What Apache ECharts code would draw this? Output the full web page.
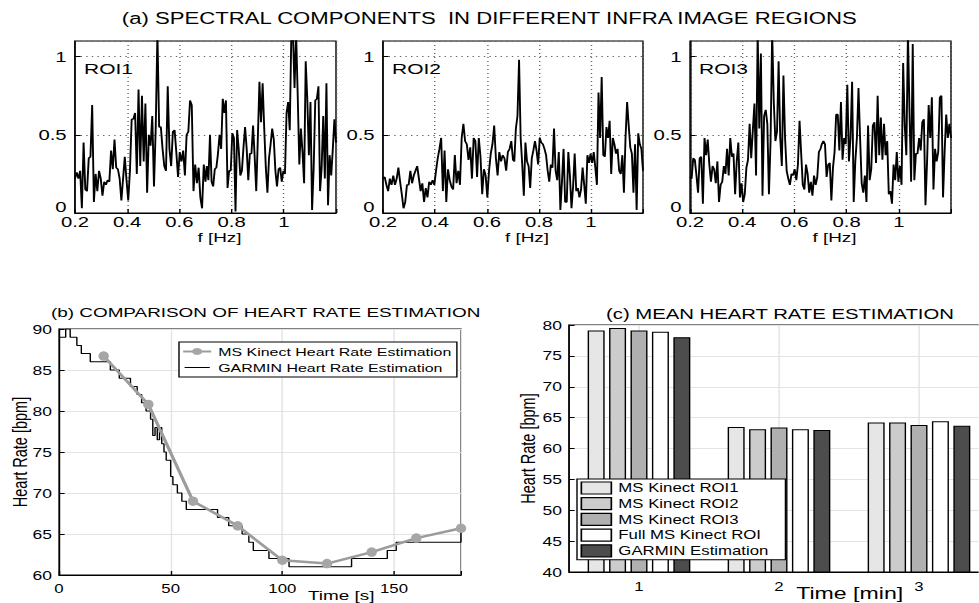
<!DOCTYPE html>
<html><head><meta charset="utf-8">
<script src="https://cdn.jsdelivr.net/npm/echarts/dist/echarts.min.js"></script>
<style>
html,body{margin:0;padding:0;background:#fff;overflow:hidden}
#wrap{width:979px;height:603px;overflow:hidden;position:relative}
#c{position:absolute;left:0;top:0;height:603px;transform-origin:0 0}
</style>
</head><body><div id="wrap"><div id="c"></div></div><script>
// ---------- (a) spectral components: amplitude values, low half (0.2-0.70 Hz) and high half (0.705-1.2 Hz)
const freqLoRange = [0.2, 0.70];
const freqHiRange = [0.705, 1.2];
const spec1Lo = [0.22,0.26,0.22,0.27,0.03,0.45,0.15,0.14,0.35,0.36,0.69,0.07,0.25,0.14,0.27,0.22,0.11,0.2,0.18,0.21,0.2,0.4,0.28,0.47,0.29,0.28,0.22,0.08,0.22,0.36,0.21,0.08,0.27,0.6,0.6,0.64,0.25,0.79,0.3,0.75,0.33,0.7,0.13,0.5,0.43,0.62,0.17,0.54,1.15,0.55,0.55,0.41,0.3,0.27,0.81,0.41,0.3,0.52,0.53,0.39,0.23,0.39,0.33,0.4,0.24,0.5,0.52,0.72,0.69,0.14,0.31,0.19,0.29,0.1,0.03,0.31,0.2];
const spec1Hi = [0.3,0.21,0.5,0.2,0.17,0.28,0.29,0.38,0.5,0.41,0.73,0.64,0.72,0.16,0.27,0.27,0.51,0.48,0.01,0.53,0.41,0.24,0.27,0.42,0.55,0.41,0.21,0.38,0.38,0.56,0.36,0.14,0.48,0.84,0.58,0.83,0.54,0.29,0.13,0.35,0.44,0.54,0.47,0.27,0.17,0.28,0.29,0.2,0.27,0.25,0.64,0.71,0.53,1.15,1.15,0.8,1.15,0.75,0.31,0.54,0.39,0.19,0.97,0.73,0.37,0.71,0.02,0.29,0.72,0.73,0.81,0.14,0.29,0.62,0.22,0.83,0.05,0.37,0.24,0.41,0.6,0.45];
const spec2Lo = [0.22,0.23,0.18,0.14,0.22,0.18,0.24,0.18,0.22,0.29,0.2,0.12,0.03,0.07,0.18,0.18,0.27,0.19,0.24,0.27,0.3,0.22,0.14,0.19,0.07,0.16,0.1,0.2,0.18,0.21,0.18,0.27,0.35,0.41,0.48,0.14,0.4,0.07,0.28,0.21,0.17,0.15,0.37,0.19,0.27,0.18,0.48,0.57,0.46,0.44,0.34,0.42,0.22,0.48,0.46,0.23,0.48,0.36,0.12,0.28,0.24,0.1,0.27,0.38,0.44,0.56,0.35,0.24,0.39,0.33,0.37,0.35,0.27,0.39,0.41,0.46,0.34];
const spec2Hi = [0.33,0.54,0.62,0.98,0.48,0.31,0.11,0.45,0.33,0.3,0.16,0.35,0.4,0.46,0.4,0.31,0.48,0.45,0.44,0.41,0.37,0.27,0.2,0.31,0.29,0.54,0.27,0.21,0.39,0.02,0.2,0.41,0.07,0.07,0.39,0.24,0.03,0.17,0.38,0.14,0.16,0.1,0.15,0.29,0.18,0.06,0.37,0.32,0.38,0.32,0.39,0.29,0.18,0.77,0.48,0.87,0.37,0.36,0.55,0.48,0.59,0.25,0.48,0.44,0.38,0.41,0.27,0.25,0.37,0.13,0.48,0.71,0.56,0.42,0.38,0.13,0.44,0.02,0.51,0.44,0.41,0.27];
const spec3Lo = [0.23,0.22,0.35,0.34,0.24,0.13,0.35,0.36,0.06,0.48,0.37,0.47,0.31,0.2,0.3,0.28,0.19,0.33,0.07,0.18,0.2,0.3,0.25,0.41,0.24,0.48,0.36,0.38,0.12,0.33,0.45,0.1,0.19,0.07,0.12,0.29,0.34,0.57,0.35,0.53,0.7,0.24,1.15,0.54,1.02,0.11,0.62,0.66,0.57,0.12,0.46,1.15,0.71,0.46,0.52,0.97,0.48,0.3,0.88,0.48,0.27,0.22,0.18,0.25,0.24,0.28,0.21,0.31,0.59,0.38,0.18,0.15,0.31,0.25,0.13,0.2,0.11,0.24,0.18,0.23,0.39,0.41];
const spec3Hi = [0.44,0.46,0.44,0.23,0.31,0.32,0.08,0.29,0.39,0.63,0.63,0.4,0.71,0.34,0.48,0.44,0.82,0.33,0.48,0.84,0.07,0.33,0.48,0.8,0.48,0.19,0.13,0.24,0.07,0.56,0.21,0.28,0.56,0.58,0.32,0.75,0.37,0.61,0.34,0.57,0.37,0.46,0.12,0.14,0.06,0.31,0.21,0.39,0.2,0.3,0.18,0.96,0.56,0.37,1.15,0.64,0.2,1.08,0.21,0.38,0.38,0.48,0.4,0.58,0.6,0.05,0.33,0.69,0.48,0.74,0.15,0.41,0.33,0.39,0.74,0.75,0.1,0.39,0.63,0.48,0.57,0.48];
const roiLabels = ['ROI1','ROI2','ROI3'];
const specXTicks = ['0.2','0.4','0.6','0.8','1'];
const specYTicks = ['0','0.5','1'];

// ---------- (b) heart rate comparison
const kinectTime = [20,40,60,80,100,120,140,160,180];
const kinectHR = [86.7,80.8,69.0,66.0,61.8,61.4,62.8,64.5,65.7];
const garminTime = [0,3,5,8,10,14,23,27,32,35,37,39,41,42,43,44,45,46,47,48,50,51,53,55,57,71,76,82,85,87,94,103,131,147,151,180];
const garminHR = [89,90,89,88,87,86,85,84,83,82,81,80,79,77,78,76.5,78,76,75,74,72,71,70,69,68,67,66,65,64,63,62,61,62,63,64,65.5];

// ---------- (c) mean heart rate
const minuteCats = ['1','2','3'];
const barNames = ['MS Kinect ROI1','MS Kinect ROI2','MS Kinect ROI3','Full MS Kinect ROI','GARMIN Estimation'];
const roi1Mean = [79.1,63.5,64.2];
const roi2Mean = [79.5,63.1,64.2];
const roi3Mean = [79.1,63.4,63.8];
const fullMean = [78.9,63.1,64.4];
const garminMean = [78.0,63.0,63.7];
const barColors = ['#e6e6e6','#cccccc','#b0b0b0','#ffffff','#4d4d4d'];

// The reference figure is horizontally stretched; draw narrower and stretch the page element.
const S = 1.4;
const W = 979 / S;
const px = v => v / S;   // reference x pixels -> chart units
const FONT = 'Liberation Sans';
const el = document.getElementById('c');
el.style.width = W + 'px';
el.style.transform = 'scaleX(' + S + ')';

function spread(vals, r){ return vals.map((v,i)=>[r[0]+(r[1]-r[0])*i/(vals.length-1), v]); }
const specData = [
  spread(spec1Lo,freqLoRange).concat(spread(spec1Hi,freqHiRange)),
  spread(spec2Lo,freqLoRange).concat(spread(spec2Hi,freqHiRange)),
  spread(spec3Lo,freqLoRange).concat(spread(spec3Hi,freqHiRange))
];
const zip = (a,b)=>a.map((v,i)=>[v,b[i]]);

const gridBase = {show:true, borderColor:'#000', borderWidth:1, backgroundColor:'transparent', containLabel:false, outerBoundsMode:'none'};
const grids = [
  {left:px(75), top:41, width:px(261), height:172},
  {left:px(383), top:41, width:px(260), height:172},
  {left:px(690), top:41, width:px(261), height:172},
  {left:px(59), top:329, width:px(402), height:246},
  {left:px(569), top:325, width:px(420), height:247}
].map(g=>Object.assign({}, gridBase, g));

const axLine = {show:true, onZero:false, lineStyle:{color:'#000', width:1}};
const tick = {show:true, inside:true, length:4, lineStyle:{color:'#000'}};
const xAxes = [0,1,2].map(i=>({
  type:'value', gridIndex:i, min:0.2, max:1.2, interval:0.2,
  axisLine:axLine, axisTick:tick,
  axisLabel:{color:'#000', fontSize:14.5, fontFamily:FONT, margin:2,
    formatter:v=>{const k=Math.round((v-0.2)/0.2); return k<specXTicks.length?specXTicks[k]:'';}},
  splitLine:{show:true, lineStyle:{color:'#666', width:1, type:[1,3]}},
  name:'f [Hz]', nameLocation:'middle', nameGap:17, nameMoveOverlap:false,
  nameTextStyle:{color:'#000', fontSize:13.5, fontFamily:FONT, padding:[0,0,0,20]}
}));
xAxes.push({
  type:'value', gridIndex:3, min:0, max:180, interval:50,
  axisLine:axLine, axisTick:tick,
  axisLabel:{color:'#000', fontSize:12, fontFamily:FONT, margin:8, formatter:v=>(v%50===0?String(v):'')},
  splitLine:{show:true, lineStyle:{color:'#e3e3e3', width:1}},
  name:'Time [s]', nameLocation:'middle', nameGap:13, nameMoveOverlap:false,
  nameTextStyle:{color:'#000', fontSize:13.5, fontFamily:FONT, padding:[0,0,0,116]}
});
xAxes.push({
  type:'category', gridIndex:4, data:minuteCats,
  axisLine:axLine,
  axisTick:Object.assign({}, tick, {alignWithLabel:true}),
  axisLabel:{color:'#000', fontSize:12, fontFamily:FONT, margin:9},
  splitLine:{show:true, alignWithLabel:true, lineStyle:{color:'#e3e3e3', width:1}},
  name:'Time [min]', nameLocation:'middle', nameGap:13, nameMoveOverlap:false,
  nameTextStyle:{color:'#000', fontSize:16.5, fontFamily:FONT, padding:[0,0,0,101]}
});

const yAxes = [0,1,2].map(i=>({
  type:'value', gridIndex:i, min:0, max:1.1, interval:0.5,
  axisLine:axLine, axisTick:tick,
  axisLabel:{color:'#000', fontSize:14.5, fontFamily:FONT, margin:6, showMaxLabel:false,
    formatter:v=>{const k=Math.round(v/0.5); if(k===0) return '{z|'+specYTicks[0]+'}'; return k<specYTicks.length?specYTicks[k]:'';},
    rich:{z:{color:'#000', fontSize:14.5, fontFamily:FONT, padding:[0,0,11,0]}}},
  splitLine:{show:true, lineStyle:{color:'#666', width:1, type:[1,3]}}
}));
yAxes.push({
  type:'value', gridIndex:3, min:60, max:90, interval:5,
  axisLine:axLine, axisTick:tick,
  axisLabel:{color:'#000', fontSize:12.5, fontFamily:FONT, margin:5},
  splitLine:{show:true, lineStyle:{color:'#e3e3e3', width:1}},
  name:'Heart Rate [bpm]', nameLocation:'middle', nameRotate:90, nameGap:20, nameMoveOverlap:false,
  nameTextStyle:{color:'#000', fontSize:14.5, fontFamily:FONT}
});
yAxes.push({
  type:'value', gridIndex:4, min:40, max:80, interval:5,
  axisLine:axLine, axisTick:tick,
  axisLabel:{color:'#000', fontSize:12.5, fontFamily:FONT, margin:5},
  splitLine:{show:true, lineStyle:{color:'#e3e3e3', width:1}},
  name:'Heart Rate [bpm]', nameLocation:'middle', nameRotate:90, nameGap:21.5, nameMoveOverlap:false,
  nameTextStyle:{color:'#000', fontSize:14.5, fontFamily:FONT}
});

const series = [];
specData.forEach((d,i)=>series.push({
  type:'line', name:roiLabels[i], xAxisIndex:i, yAxisIndex:i, data:d,
  showSymbol:false, symbol:'none', clip:true,
  lineStyle:{color:'#000', width:1.35}, itemStyle:{color:'#000'}
}));
series.push({
  type:'line', name:'GARMIN Heart Rate Estimation', xAxisIndex:3, yAxisIndex:3,
  data:zip(garminTime, garminHR), step:'end', symbol:'none', showSymbol:false,
  lineStyle:{color:'#000', width:1}, itemStyle:{color:'#000'}
});
series.push({
  type:'line', name:'MS Kinect Heart Rate Estimation', xAxisIndex:3, yAxisIndex:3,
  data:zip(kinectTime, kinectHR), symbol:'circle', symbolSize:[7.5,9.5], showSymbol:true,
  lineStyle:{color:'#9c9c9c', width:2.4}, itemStyle:{color:'#a6a6a6', borderWidth:0}
});
[roi1Mean, roi2Mean, roi3Mean, fullMean, garminMean].forEach((d,i)=>series.push({
  type:'bar', name:barNames[i], xAxisIndex:4, yAxisIndex:4, data:d,
  barWidth:px(17), barGap:'26%',
  itemStyle:{color:barColors[i], borderColor:'#000', borderWidth:1}
}));

const ts = size => ({color:'#000', fontSize:size, fontWeight:'normal', fontFamily:FONT});
const titles = [
  {text:'(a) SPECTRAL COMPONENTS  IN DIFFERENT INFRA IMAGE REGIONS', left:'center', top:11, padding:0, textStyle:ts(15.8)},
  {text:'(b) COMPARISON OF HEART RATE ESTIMATION', left:px(51), top:305, padding:0, textStyle:ts(13.5)},
  {text:'(c) MEAN HEART RATE ESTIMATION', left:px(606), top:307, padding:0, textStyle:ts(14.5)}
];
[84, 392, 699].forEach((x,i)=>titles.push({text:roiLabels[i], left:px(x), top:61, padding:0, textStyle:ts(15)}));

// thin horizontal line icon (bounding points keep it from being stretched into a block)
const thinLineIcon = 'path://M0,0h0.01v0.01h-0.01zM0,4.5h20v1.1h-20zM0,10h0.01v0.01h-0.01z';

const option = {
  animation:false,
  backgroundColor:'#fff',
  textStyle:{fontFamily:FONT},
  title:titles,
  grid:grids,
  xAxis:xAxes,
  yAxis:yAxes,
  legend:[
    {data:['MS Kinect Heart Rate Estimation', {name:'GARMIN Heart Rate Estimation', icon:thinLineIcon}], orient:'vertical',
     left:px(179), top:342, itemWidth:px(28), itemHeight:9, itemGap:2, selectedMode:false,
     padding:[2.5,4,2.5,2], borderColor:'#000', borderWidth:1, backgroundColor:'#fff',
     textStyle:{color:'#000', fontSize:11.4, fontFamily:FONT, lineHeight:14}},
    {data:barNames, orient:'vertical', icon:'rect',
     left:px(577), top:479, itemWidth:px(30), itemHeight:12, itemGap:1.7, selectedMode:false,
     padding:[2,12,2,2.5], borderColor:'#000', borderWidth:1, backgroundColor:'#fff',
     itemStyle:{borderColor:'#000', borderWidth:1.2},
     textStyle:{color:'#000', fontSize:12, fontFamily:FONT, lineHeight:14}}
  ],
  series:series
};
const chart = echarts.init(el, null, {renderer:'svg'});
chart.setOption(option);
</script></body></html>
